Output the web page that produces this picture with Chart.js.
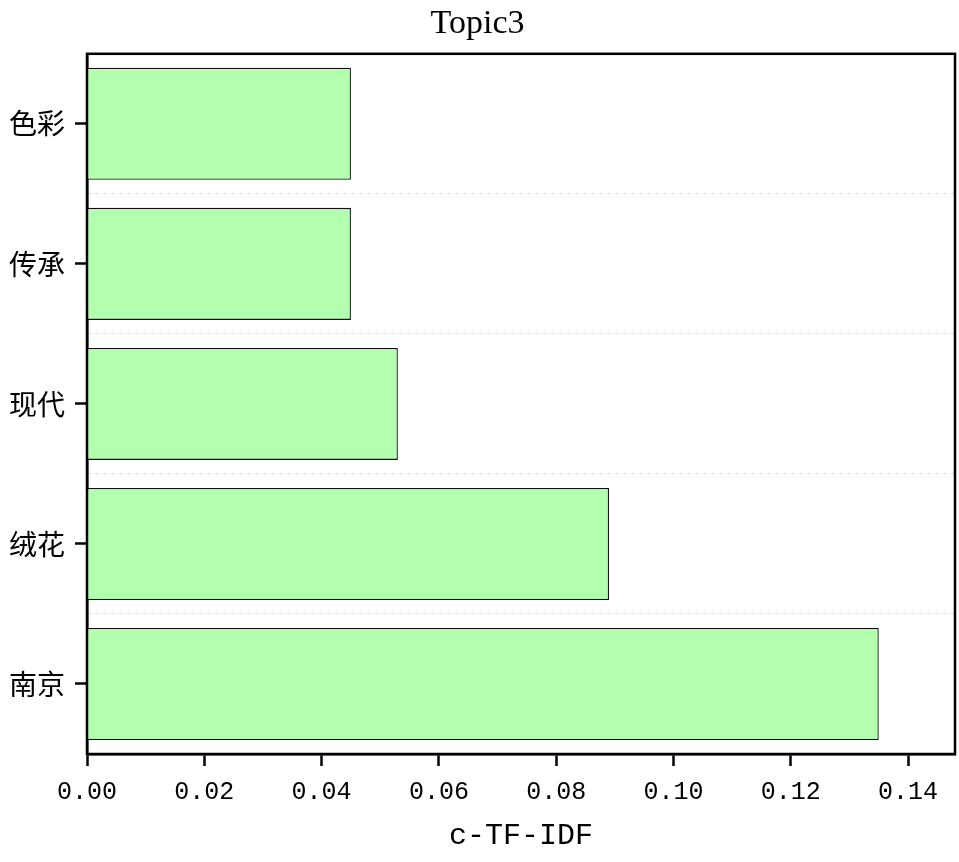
<!DOCTYPE html>
<html>
<head>
<meta charset="utf-8">
<script src="https://cdn.jsdelivr.net/npm/chart.js@4/dist/chart.umd.min.js"></script>
<style>
    html, body { margin: 0; padding: 0; background: #fff; }
    #wrap { width: 959px; height: 862px; }
</style>
</head>
<body>
<div id="wrap"><canvas id="chart"></canvas></div>
<script>
// Datos del gráfico (de arriba hacia abajo).
const CATEGORIES = ['色彩', '传承', '现代', '绒花', '南京'];
const VALUES = [0.045, 0.045, 0.053, 0.089, 0.135];
const X_MIN = 0;
const X_MAX = 0.148;
const X_STEP = 0.02;
const TITLE = 'Topic3';
const X_LABEL = 'c-TF-IDF';

// Plugin para dibujar el marco negro alrededor del área del gráfico.
const frame = {
    id: 'frame',
    afterDraw: (chart) => {
        const { ctx, chartArea: a } = chart;
        ctx.save();
        ctx.strokeStyle = '#000';
        ctx.lineWidth = 2.5;
        ctx.strokeRect(a.left, a.top, a.right - a.left, a.bottom - a.top);
        ctx.restore();
    }
};

const context = document.getElementById('chart').getContext('2d');
const chart = new Chart(context, {
    type: 'bar',
    data: {
        labels: CATEGORIES,
        datasets: [{
            data: VALUES,
            backgroundColor: '#b3ffb0',
            borderColor: '#111',
            borderWidth: 1.3,
            barPercentage: 0.8,
            categoryPercentage: 1.0,
            yAxisID: 'y'
        }]
    },
    options: {
        indexAxis: 'y',
        responsive: true,
        maintainAspectRatio: false,
        animation: false,
        layout: { padding: { left: 0, right: 4, top: 0, bottom: 0 } },
        plugins: {
            legend: { display: false },
            tooltip: { enabled: false },
            title: {
                display: true,
                text: TITLE,
                color: '#000',
                font: { family: 'Liberation Serif', size: 34, weight: 'normal' },
                padding: { top: 4, bottom: 9 }
            }
        },
        scales: {
            x: {
                type: 'linear',
                min: X_MIN,
                max: X_MAX,
                afterFit: (scale) => { scale.height = 108; },
                ticks: {
                    stepSize: X_STEP,
                    includeBounds: false,
                    color: '#000',
                    padding: 11,
                    font: { family: 'Liberation Mono', size: 25 },
                    callback: (v) => v.toFixed(2)
                },
                grid: {
                    drawOnChartArea: false,
                    drawTicks: true,
                    tickLength: 12,
                    tickColor: '#000',
                    tickWidth: 2.5
                },
                border: { display: true, color: '#000', width: 2.5 },
                title: {
                    display: true,
                    text: X_LABEL,
                    color: '#000',
                    font: { family: 'Liberation Mono', size: 30 },
                    padding: { top: 4, bottom: 8 }
                }
            },
            y: {
                type: 'category',
                position: 'left',
                afterFit: (scale) => { scale.width = 87; },
                ticks: {
                    color: '#000',
                    padding: 10,
                    font: { family: 'Noto Sans CJK SC', size: 28 }
                },
                grid: {
                    offset: false,
                    drawOnChartArea: false,
                    tickLength: 12,
                    tickColor: '#000',
                    tickWidth: 2.5
                },
                border: { display: true, color: '#000', width: 2.5 }
            },
            y2: {
                type: 'category',
                position: 'left',
                labels: CATEGORIES,
                afterFit: (scale) => { scale.width = 0; },
                ticks: { display: false },
                grid: {
                    offset: true,
                    drawTicks: false,
                    color: '#dddddd',
                    lineWidth: 1
                },
                border: { display: false, dash: [4, 4] }
            }
        }
    },
    plugins: [frame]
});
</script>
</body>
</html>
